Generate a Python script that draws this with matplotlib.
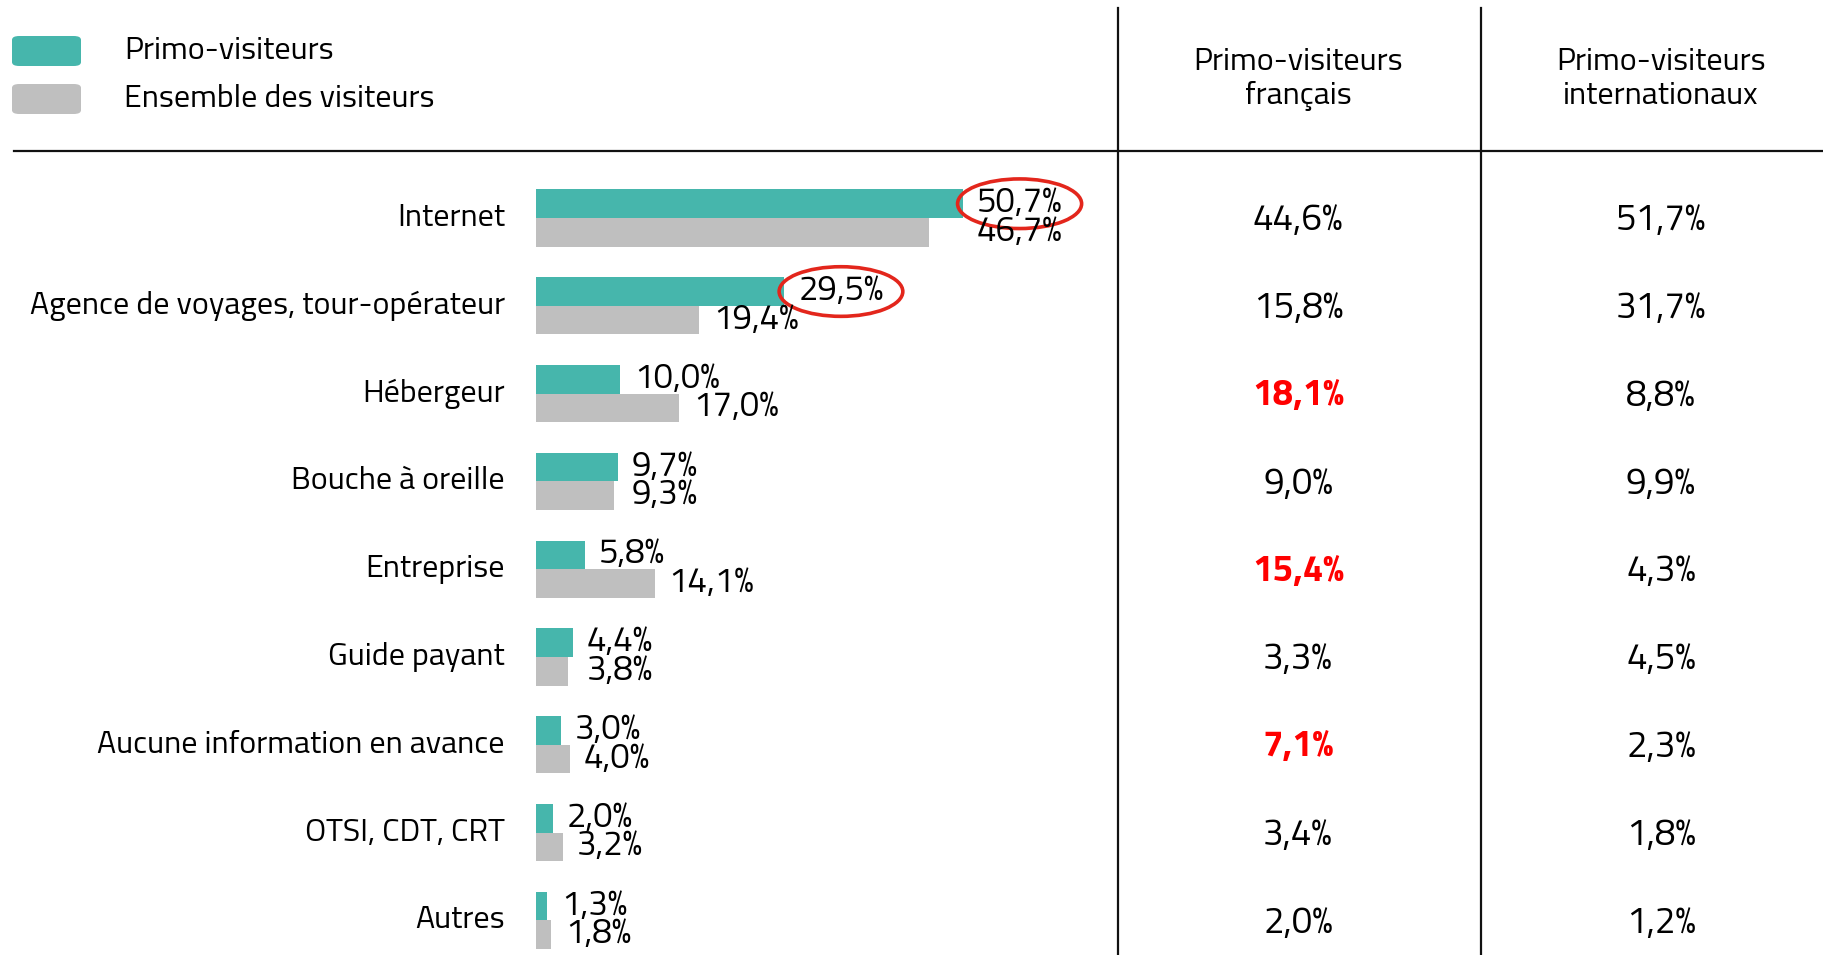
import matplotlib
matplotlib.use("Agg")
import matplotlib.pyplot as plt
from matplotlib.patches import FancyBboxPatch
from matplotlib.transforms import blended_transform_factory

plt.rcParams['font.family'] = ['Titillium Web', 'DejaVu Sans']

# Data
categories = ["Internet", "Agence de voyages, tour-opérateur", "Hébergeur",
              "Bouche à oreille", "Entreprise", "Guide payant",
              "Aucune information en avance", "OTSI, CDT, CRT", "Autres"]
primo = [50.7, 29.5, 10.0, 9.7, 5.8, 4.4, 3.0, 2.0, 1.3]
ensemble = [46.7, 19.4, 17.0, 9.3, 14.1, 3.8, 4.0, 3.2, 1.8]
primo_fr = [44.6, 15.8, 18.1, 9.0, 15.4, 3.3, 7.1, 3.4, 2.0]
primo_intl = [51.7, 31.7, 8.8, 9.9, 4.3, 4.5, 2.3, 1.8, 1.2]
fr_highlight = ["Hébergeur", "Entreprise", "Aucune information en avance"]
circled = ["Internet", "Agence de voyages, tour-opérateur"]

legend_labels = ["Primo-visiteurs", "Ensemble des visiteurs"]
col_headers = ["Primo-visiteurs\nfrançais", "Primo-visiteurs\ninternationaux"]

TEAL = "#46B6AC"
GREY = "#BFBFBF"
RED = "#E3261C"
W, H = 1824, 955
FS = 23          # words
FS_BAR = 25      # bar value labels
FS_TAB = 26.5    # table values


def pct(v):
    return f"{v:.1f}".replace(".", ",") + "%"


fig = plt.figure(figsize=(W / 100, H / 100), dpi=100)

# bar area: from bar origin to first table column line, below header rule
x0, x1, ytop = 536, 1118, 151
ax = fig.add_axes([x0 / W, 0, (x1 - x0) / W, (H - ytop) / H])
row_px, first_px = 87.8, 218
ax.set_xlim(0, (x1 - x0) / 8.42)
ax.set_ylim((H - first_px) / row_px, (ytop - first_px) / row_px)
ax.axis("off")

bh = 0.325
ys = list(range(len(categories)))
ax.barh([y - bh / 2 for y in ys], primo, height=bh, color=TEAL)
ax.barh([y + bh / 2 for y in ys], ensemble, height=bh, color=GREY)

for y, cat, p, e in zip(ys, categories, primo, ensemble):
    bbox = None
    if cat in circled:
        bbox = dict(boxstyle="ellipse,pad=0.03", fc="none", ec=RED, lw=2.6)
    ax.annotate(pct(p), xy=(p, y - bh / 2), xytext=(10, 0),
                textcoords="offset points", va="center", ha="left",
                fontsize=FS_BAR, bbox=bbox)
    # grey label sits under the teal one when the bars are close
    ex = p if 0 < p - e <= 4 else e
    ax.annotate(pct(e), xy=(ex, y + bh / 2), xytext=(10, 0),
                textcoords="offset points", va="center", ha="left",
                fontsize=FS_BAR)

# category labels and table columns share the bar rows
tr = blended_transform_factory(fig.transFigure, ax.transData)
for y, cat, f, i in zip(ys, categories, primo_fr, primo_intl):
    ax.text(505 / W, y, cat, transform=tr, ha="right", va="center",
            fontsize=FS)
    red = cat in fr_highlight
    ax.text(1298 / W, y + 0.03, pct(f), transform=tr, ha="center", va="center",
            fontsize=FS_TAB, color="#FF0000" if red else "black",
            fontweight="bold" if red else "normal")
    ax.text(1661 / W, y + 0.03, pct(i), transform=tr, ha="center", va="center",
            fontsize=FS_TAB)

# header: legend, column titles, rules
for k, (lab, col) in enumerate(zip(legend_labels, [TEAL, GREY])):
    yc = 51 + 48 * k
    fig.patches.append(FancyBboxPatch((12 / W, 1 - (yc + 15) / H), 69 / W, 30 / H,
                                      boxstyle="round,pad=0,rounding_size=0.004",
                                      transform=fig.transFigure, fc=col, ec="none"))
    fig.text(124 / W, 1 - yc / H, lab, ha="left", va="center", fontsize=FS)

for xc, head in zip([1298, 1661], col_headers):
    fig.text(xc / W, 1 - 79 / H, head, ha="center", va="center",
             fontsize=FS, linespacing=1.2)

fig.add_artist(plt.Line2D([14 / W, 1], [1 - ytop / H] * 2, color="#111", lw=1.6))
for xv in [1118, 1481]:
    fig.add_artist(plt.Line2D([xv / W] * 2, [0, 1 - 8 / H], color="#111", lw=1.6))

fig.savefig("out.png", dpi=100)
